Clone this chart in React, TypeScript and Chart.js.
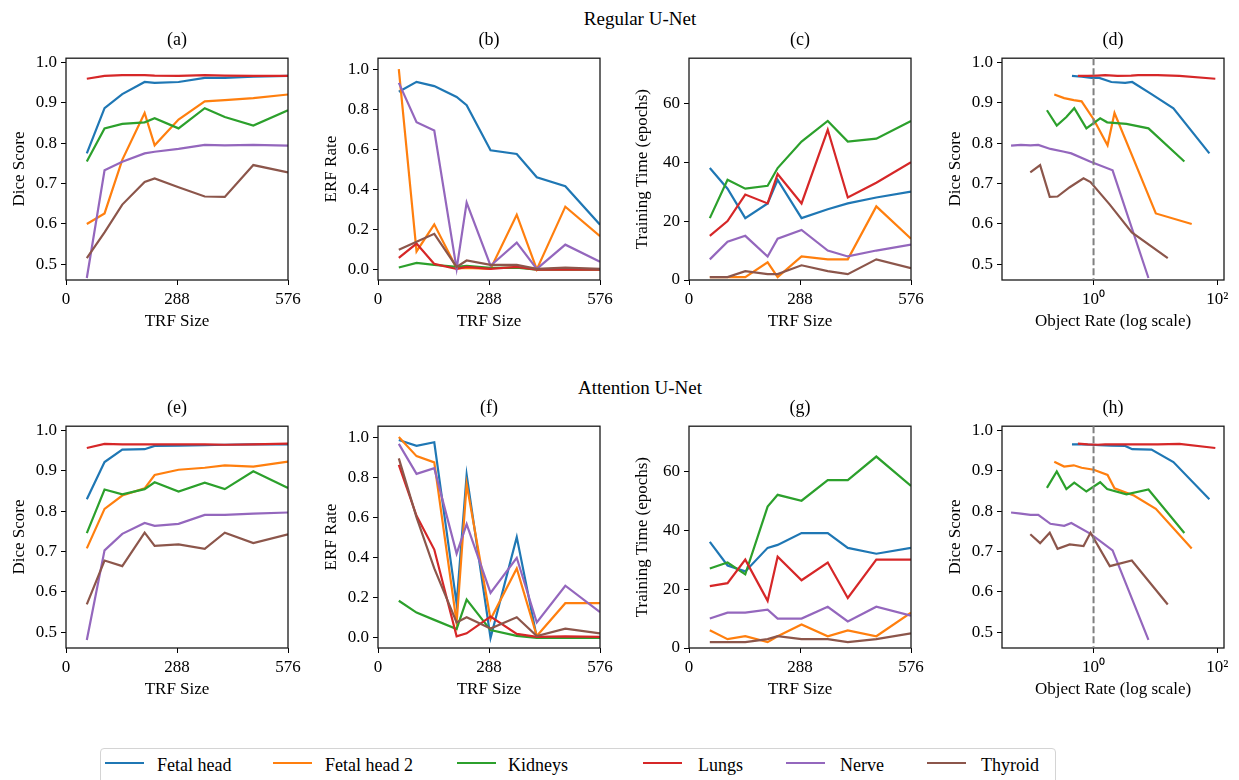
import React, { useEffect, useRef } from "react";
import { Chart, registerables } from "chart.js";

Chart.register(...registerables);

// ---------------- data ----------------
const SERIES = ["Fetal head", "Fetal head 2", "Kidneys", "Lungs", "Nerve", "Thyroid"];
const COLORS = ["#1f77b4", "#ff7f0e", "#2ca02c", "#d62728", "#9467bd", "#8c564b"];

const TRF_SIZES = [54, 100, 146, 204, 230, 292, 360, 412, 486, 576];
const TRF_TICKS = [0, 288, 576];
const DICE_TICKS = [0.5, 0.6, 0.7, 0.8, 0.9, 1.0];
const ERF_TICKS = [0, 0.2, 0.4, 0.6, 0.8, 1.0];
const TIME_TICKS = [0, 20, 40, 60];
const RATE_TICKS = [1, 100];
const RATE_TICK_LABELS = ["10\u2070", "10\u00b2"];

// object rate of each dataset, one value per TRF size
const RATE_FETAL_HEAD = [74.3, 19.5, 8.63, 4.21, 3.24, 1.94, 1.236, 0.923, 0.646, 0.448];
const RATE_FETAL_HEAD_2 = [38.5, 10.14, 4.48, 2.18, 1.683, 1.007, 0.641, 0.479, 0.335, 0.232];
const RATE_KIDNEYS = [29.3, 7.71, 3.4, 1.66, 1.279, 0.766, 0.488, 0.364, 0.2547, 0.1766];
const RATE_LUNGS = [92.7, 24.4, 10.8, 5.25, 4.05, 2.42, 1.542, 1.151, 0.805, 0.558];
const RATE_NERVE = [7.71, 2.03, 0.895, 0.437, 0.336, 0.201, 0.128, 0.0957, 0.067, 0.0465];
const RATE_THYROID = [15.8, 4.15, 1.83, 0.893, 0.689, 0.412, 0.262, 0.196, 0.137, 0.0951];
const RATES = [RATE_FETAL_HEAD, RATE_FETAL_HEAD_2, RATE_KIDNEYS, RATE_LUNGS, RATE_NERVE, RATE_THYROID];

// Regular U-Net
const REG_DICE = [
  [0.775, 0.887, 0.922, 0.952, 0.95, 0.952, 0.962, 0.962, 0.965, 0.967],
  [0.6, 0.626, 0.759, 0.875, 0.795, 0.859, 0.904, 0.907, 0.912, 0.921],
  [0.755, 0.837, 0.848, 0.852, 0.862, 0.837, 0.887, 0.865, 0.844, 0.882],
  [0.96, 0.967, 0.969, 0.969, 0.968, 0.967, 0.969, 0.968, 0.967, 0.967],
  [0.466, 0.733, 0.754, 0.775, 0.779, 0.786, 0.796, 0.795, 0.796, 0.794],
  [0.515, 0.579, 0.648, 0.704, 0.713, 0.691, 0.668, 0.667, 0.746, 0.728],
];
const REG_ERF = [
  [0.887, 0.936, 0.915, 0.861, 0.82, 0.596, 0.577, 0.461, 0.417, 0.225],
  [1.0, 0.092, 0.227, 0.008, 0.01, 0.005, 0.275, 0.003, 0.315, 0.168],
  [0.012, 0.035, 0.025, 0.015, 0.02, 0.01, 0.012, 0.002, 0.002, 0.002],
  [0.06, 0.131, 0.03, 0.005, 0.015, 0.005, 0.015, 0.002, 0.002, 0.002],
  [0.931, 0.735, 0.694, 0.005, 0.335, 0.021, 0.136, 0.005, 0.126, 0.041],
  [0.101, 0.14, 0.18, 0.015, 0.047, 0.025, 0.025, 0.005, 0.012, 0.005],
];
const REG_TIME = [
  [38, 31, 21, 26, 34, 21, 24, 26, 28, 30],
  [1, 1, 1, 6, 1, 8, 7, 7, 25, 14],
  [21, 34, 31, 32, 38, 47, 54, 47, 48, 54],
  [15, 20, 29, 26, 36, 26, 51, 28, 33, 40],
  [7, 13, 15, 8, 14, 17, 10, 8, 10, 12],
  [1, 1, 3, 2, 2, 5, 3, 2, 7, 4],
];

// Attention U-Net
const ATT_DICE = [
  [0.83, 0.922, 0.953, 0.954, 0.962, 0.963, 0.964, 0.965, 0.966, 0.966],
  [0.708, 0.806, 0.839, 0.857, 0.89, 0.903, 0.908, 0.914, 0.911, 0.923],
  [0.746, 0.854, 0.842, 0.855, 0.872, 0.849, 0.871, 0.855, 0.899, 0.858],
  [0.957, 0.967, 0.966, 0.966, 0.966, 0.966, 0.966, 0.965, 0.966, 0.968],
  [0.481, 0.703, 0.744, 0.771, 0.764, 0.769, 0.791, 0.791, 0.794, 0.797],
  [0.569, 0.678, 0.664, 0.747, 0.714, 0.718, 0.707, 0.747, 0.721, 0.743],
];
const ATT_ERF = [
  [0.985, 0.956, 0.974, 0.17, 0.812, 0.0, 0.502, 0.003, 0.002, 0.002],
  [1.0, 0.905, 0.874, 0.077, 0.766, 0.093, 0.346, 0.01, 0.173, 0.173],
  [0.185, 0.126, 0.09, 0.044, 0.191, 0.039, 0.01, 0.0, 0.0, 0.0],
  [0.861, 0.608, 0.44, 0.008, 0.023, 0.106, 0.02, 0.005, 0.008, 0.005],
  [0.966, 0.817, 0.845, 0.42, 0.567, 0.224, 0.399, 0.077, 0.26, 0.129],
  [0.894, 0.6, 0.346, 0.077, 0.103, 0.047, 0.103, 0.01, 0.046, 0.023],
];
const ATT_TIME = [
  [36, 28, 26, 34, 35, 39, 39, 34, 32, 34],
  [6, 3, 4, 2, 4, 8, 4, 6, 4, 12],
  [27, 29, 25, 48, 52, 50, 57, 57, 65, 55],
  [21, 22, 30, 16, 31, 23, 29, 17, 30, 30],
  [10, 12, 12, 13, 10, 10, 14, 9, 14, 11],
  [2, 2, 2, 3, 4, 3, 3, 2, 3, 5],
];

// ---------------- layout ----------------
const FONT = "'Liberation Serif', 'Times New Roman', serif";
const COL_LEFT = [66, 378, 689, 1002];
const ROW_TOP = [56, 424];
const PLOT_W = 222;
const PLOT_H = 224;
const Y_AXIS_W = 66;
const X_AXIS_H = 56;
const PAD_TOP = 12;
const PAD_RIGHT = 20;
const CANVAS_W = Y_AXIS_W + PLOT_W + PAD_RIGHT;
const CANVAS_H = PAD_TOP + PLOT_H + X_AXIS_H;

type Panel = {
  id: string;
  label: string;
  row: number;
  col: number;
  kind: "trf" | "rate";
  values: number[][];
  yTitle: string;
  yMin: number;
  yMax: number;
  yTicks: number[];
  yDigits: number;
};

const PANELS: Panel[] = [
  { id: "a", label: "(a)", row: 0, col: 0, kind: "trf", values: REG_DICE, yTitle: "Dice Score", yMin: 0.461, yMax: 1.011, yTicks: DICE_TICKS, yDigits: 1 },
  { id: "b", label: "(b)", row: 0, col: 1, kind: "trf", values: REG_ERF, yTitle: "ERF Rate", yMin: -0.05, yMax: 1.054, yTicks: ERF_TICKS, yDigits: 1 },
  { id: "c", label: "(c)", row: 0, col: 2, kind: "trf", values: REG_TIME, yTitle: "Training Time (epochs)", yMin: 0, yMax: 75.3, yTicks: TIME_TICKS, yDigits: 0 },
  { id: "d", label: "(d)", row: 0, col: 3, kind: "rate", values: REG_DICE, yTitle: "Dice Score", yMin: 0.461, yMax: 1.011, yTicks: DICE_TICKS, yDigits: 1 },
  { id: "e", label: "(e)", row: 1, col: 0, kind: "trf", values: ATT_DICE, yTitle: "Dice Score", yMin: 0.461, yMax: 1.011, yTicks: DICE_TICKS, yDigits: 1 },
  { id: "f", label: "(f)", row: 1, col: 1, kind: "trf", values: ATT_ERF, yTitle: "ERF Rate", yMin: -0.05, yMax: 1.054, yTicks: ERF_TICKS, yDigits: 1 },
  { id: "g", label: "(g)", row: 1, col: 2, kind: "trf", values: ATT_TIME, yTitle: "Training Time (epochs)", yMin: 0, yMax: 75.3, yTicks: TIME_TICKS, yDigits: 0 },
  { id: "h", label: "(h)", row: 1, col: 3, kind: "rate", values: ATT_DICE, yTitle: "Dice Score", yMin: 0.461, yMax: 1.011, yTicks: DICE_TICKS, yDigits: 1 },
];

const framePlugin = {
  id: "frame",
  afterDatasetsDraw(chart: any) {
    const { ctx, chartArea } = chart;
    ctx.save();
    ctx.strokeStyle = "#1a1a1a";
    ctx.lineWidth = 1.3;
    ctx.strokeRect(chartArea.left, chartArea.top, chartArea.right - chartArea.left, chartArea.bottom - chartArea.top);
    ctx.restore();
  },
};

const refLinePlugin = {
  id: "refLine",
  afterDatasetsDraw(chart: any, _args: any, opts: any) {
    if (!opts || opts.value == null) return;
    const { ctx, chartArea } = chart;
    const x = chart.scales.x.getPixelForValue(opts.value);
    ctx.save();
    ctx.strokeStyle = "#808080";
    ctx.lineWidth = 2;
    ctx.setLineDash([7, 3]);
    ctx.beginPath();
    ctx.moveTo(x, chartArea.top);
    ctx.lineTo(x, chartArea.bottom);
    ctx.stroke();
    ctx.restore();
  },
};

function makeConfig(p: Panel): any {
  const datasets = p.values.map((vals, i) => ({
    label: SERIES[i],
    data: vals.map((v, j) => ({ x: p.kind === "trf" ? TRF_SIZES[j] : RATES[i][j], y: v })),
    borderColor: COLORS[i],
    backgroundColor: COLORS[i],
    borderWidth: 2.2,
    pointRadius: 0,
    pointHoverRadius: 0,
    tension: 0,
    fill: false,
    order: SERIES.length - i,
  }));
  const tickFont = { family: FONT, size: 17 };
  const titleFont = { family: FONT, size: 17 };
  const isRate = p.kind === "rate";
  const xTicks = isRate ? RATE_TICKS : TRF_TICKS;
  return {
    type: "line",
    data: { datasets },
    options: {
      animation: false,
      responsive: false,
      devicePixelRatio: 1,
      events: [],
      layout: { padding: { top: PAD_TOP, right: PAD_RIGHT, left: 0, bottom: 0 } },
      plugins: {
        legend: { display: false },
        tooltip: { enabled: false },
        title: { display: false },
        refLine: isRate ? { value: 1 } : {},
      },
      scales: {
        x: {
          type: isRate ? "logarithmic" : "linear",
          min: isRate ? 0.0332 : 0,
          max: isRate ? 128 : 576,
          afterBuildTicks: (s: any) => {
            s.ticks = xTicks.map((v) => ({ value: v }));
          },
          afterFit: (s: any) => {
            s.height = X_AXIS_H;
          },
          ticks: {
            autoSkip: false,
            maxRotation: 0,
            minRotation: 0,
            padding: 4,
            color: "#000",
            font: tickFont,
            callback: (v: any) => {
              if (isRate) {
                const k = RATE_TICKS.indexOf(Number(v));
                return k >= 0 ? RATE_TICK_LABELS[k] : "";
              }
              return String(v);
            },
          },
          grid: { display: true, drawOnChartArea: false, drawTicks: true, tickLength: 5, color: "#000", lineWidth: 1 },
          border: { display: false },
          title: {
            display: true,
            text: isRate ? "Object Rate (log scale)" : "TRF Size",
            color: "#000",
            font: titleFont,
            padding: { top: 0, bottom: 4 },
          },
        },
        y: {
          type: "linear",
          min: p.yMin,
          max: p.yMax,
          afterBuildTicks: (s: any) => {
            s.ticks = p.yTicks.map((v) => ({ value: v }));
          },
          afterFit: (s: any) => {
            s.width = Y_AXIS_W;
          },
          ticks: {
            autoSkip: false,
            padding: 4,
            color: "#000",
            font: tickFont,
            callback: (v: any) => Number(v).toFixed(p.yDigits),
          },
          grid: { display: true, drawOnChartArea: false, drawTicks: true, tickLength: 5, color: "#000", lineWidth: 1 },
          border: { display: false },
          title: {
            display: true,
            text: p.yTitle,
            color: "#000",
            font: titleFont,
            padding: { top: 9, bottom: 0 },
          },
        },
      },
    },
    plugins: [framePlugin, refLinePlugin],
  };
}

function PanelChart({ panel }: { panel: Panel }) {
  const ref = useRef<HTMLCanvasElement | null>(null);
  useEffect(() => {
    if (!ref.current) return;
    const chart = new Chart(ref.current, makeConfig(panel));
    return () => chart.destroy();
  }, [panel]);
  const left = COL_LEFT[panel.col] - Y_AXIS_W;
  const top = ROW_TOP[panel.row] - PAD_TOP;
  return (
    <canvas
      ref={ref}
      width={CANVAS_W}
      height={CANVAS_H}
      style={{ position: "absolute", left, top, width: CANVAS_W, height: CANVAS_H, display: "block" }}
    />
  );
}

const SUPTITLES = ["Regular U-Net", "Attention U-Net"];
const SUPTITLE_TOP = [9, 378];
const PANEL_TITLE_TOP = [30, 398];

const LEGEND_LINE_X = [105, 273, 457, 643, 786, 927];
const LEGEND_TEXT_X = [157, 325, 508, 698, 840, 981];

export default function App() {
  return (
    <div
      style={{
        position: "absolute",
        left: 0,
        top: 0,
        width: 1239,
        height: 780,
        overflow: "hidden",
        background: "#fff",
        fontFamily: FONT,
        color: "#000",
      }}
    >
      {PANELS.map((p) => (
        <PanelChart key={p.id} panel={p} />
      ))}
      {SUPTITLES.map((t, r) => (
        <div
          key={t}
          style={{ position: "absolute", left: 0, width: 1280, top: SUPTITLE_TOP[r], textAlign: "center", fontSize: 19, lineHeight: "19px", whiteSpace: "nowrap" }}
        >
          {t}
        </div>
      ))}
      {PANELS.map((p) => (
        <div
          key={"t" + p.id}
          style={{
            position: "absolute",
            left: COL_LEFT[p.col] + PLOT_W / 2 - 40,
            width: 80,
            top: PANEL_TITLE_TOP[p.row],
            textAlign: "center",
            fontSize: 18,
            lineHeight: "18px",
          }}
        >
          {p.label}
        </div>
      ))}
      <div
        style={{
          position: "absolute",
          left: 100,
          top: 748,
          width: 956,
          height: 42,
          border: "1px solid #d4d4d4",
          borderRadius: 4,
          boxSizing: "border-box",
        }}
      />
      {SERIES.map((s, i) => (
        <React.Fragment key={s}>
          <div
            style={{ position: "absolute", left: LEGEND_LINE_X[i], top: 762, width: 39, height: 2.4, background: COLORS[i] }}
          />
          <div style={{ position: "absolute", left: LEGEND_TEXT_X[i], top: 755.6, fontSize: 18, lineHeight: "18px", whiteSpace: "nowrap" }}>
            {s}
          </div>
        </React.Fragment>
      ))}
    </div>
  );
}
